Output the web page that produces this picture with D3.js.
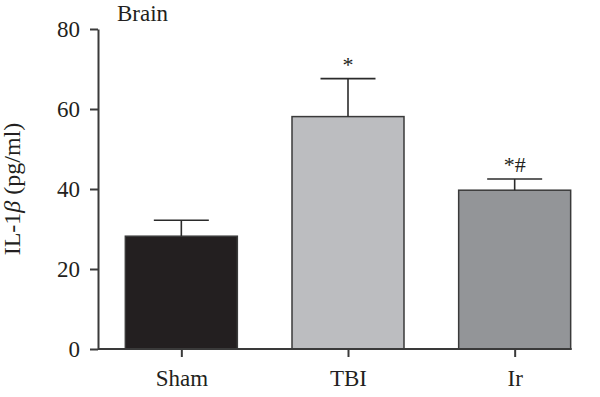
<!DOCTYPE html>
<html>
<head>
<meta charset="utf-8">
<script src="https://cdn.jsdelivr.net/npm/d3@7"></script>
<style>
  body { margin: 0; background: #fff; }
  text { font-family: "Liberation Serif", "Times New Roman", serif; fill: #231f20; }
</style>
</head>
<body>
<svg id="chart"></svg>
<script>
const groups = ["Sham", "TBI", "Ir"]
const means = [28.2, 58.1, 39.7]
const errors = [4.0, 9.5, 2.8]
const marks = ["", "*", "*#"]
const colors = ["#231f20", "#bcbdc0", "#939598"]
const yTicks = [0, 20, 40, 60, 80]

const margin = {top: 29, right: 2, bottom: 48, left: 98}
  , width = 600 - margin.left - margin.right
  , height = 397 - margin.top - margin.bottom;

const svg = d3.select("#chart")
  .attr("width", 600)
  .attr("height", 397)

const graph = svg.append("g")
  .attr("transform", "translate(" + margin.left + "," + margin.top + ")")

const xScale = d3.scalePoint()
  .domain(groups)
  .range([0, width])
  .padding(0.5)

const barWidth = 112
const capWidth = 55

const yScale = d3.scaleLinear()
  .domain([0, 80])
  .range([height, 0])

const data = groups.map((g, i) => ({group: g, mean: means[i], err: errors[i], mark: marks[i], color: colors[i]}))

// bars
graph.selectAll("rect.bar")
  .data(data)
  .enter().append("rect")
  .attr("class", "bar")
  .attr("x", d => xScale(d.group) - barWidth / 2)
  .attr("y", d => yScale(d.mean))
  .attr("width", barWidth)
  .attr("height", d => yScale(0) - yScale(d.mean))
  .attr("fill", d => d.color)
  .attr("stroke", "#3a3a3a")
  .attr("stroke-width", 1.5)

// error bars (upper only)
const err = graph.selectAll("g.err")
  .data(data)
  .enter().append("g")
  .attr("class", "err")
  .attr("stroke", "#2b2b2b")
  .attr("stroke-width", 1.6)

err.append("line")
  .attr("x1", d => xScale(d.group))
  .attr("x2", d => xScale(d.group))
  .attr("y1", d => yScale(d.mean))
  .attr("y2", d => yScale(d.mean + d.err))

err.append("line")
  .attr("x1", d => xScale(d.group) - capWidth / 2)
  .attr("x2", d => xScale(d.group) + capWidth / 2)
  .attr("y1", d => yScale(d.mean + d.err))
  .attr("y2", d => yScale(d.mean + d.err))

// significance marks
graph.selectAll("text.mark")
  .data(data.filter(d => d.mark))
  .enter().append("text")
  .attr("class", "mark")
  .attr("x", d => xScale(d.group))
  .attr("y", d => yScale(d.mean + d.err) - 7)
  .attr("text-anchor", "middle")
  .attr("font-size", "22px")
  .text(d => d.mark)

// y axis
const yAxis = d3.axisLeft(yScale)
  .tickValues(yTicks)
  .tickSize(8)
  .tickPadding(10)
  .tickSizeOuter(0)

const yg = graph.append("g").call(yAxis)
yg.selectAll("path, line").attr("stroke", "#3a3a3a").attr("stroke-width", 2)
yg.selectAll("text").attr("font-size", "23px").style("font-family", "Liberation Serif, serif").attr("fill", "#231f20")

// x axis
const xAxis = d3.axisBottom(xScale)
  .tickSize(8)
  .tickPadding(13)
  .tickSizeOuter(0)

const xg = graph.append("g")
  .attr("transform", "translate(0," + height + ")")
  .call(xAxis)
const xEnd = xScale(groups[groups.length - 1]) + barWidth / 2 + 1
xg.select(".domain").attr("d", "M0,0H" + xEnd)
xg.selectAll("path, line").attr("stroke", "#3a3a3a").attr("stroke-width", 2)
xg.selectAll("text").attr("font-size", "23px").style("font-family", "Liberation Serif, serif").attr("fill", "#231f20")

// y label
const ylab = svg.append("text")
  .attr("transform", "translate(20," + (margin.top + height / 2) + ") rotate(-90)")
  .attr("text-anchor", "middle")
  .attr("font-size", "24px")
ylab.append("tspan").text("IL-1")
ylab.append("tspan").attr("font-style", "italic").text("β")
ylab.append("tspan").text(" (pg/ml)")

// panel title
svg.append("text")
  .attr("x", 117)
  .attr("y", 21)
  .attr("font-size", "23px")
  .text("Brain")
</script>
</body>
</html>
